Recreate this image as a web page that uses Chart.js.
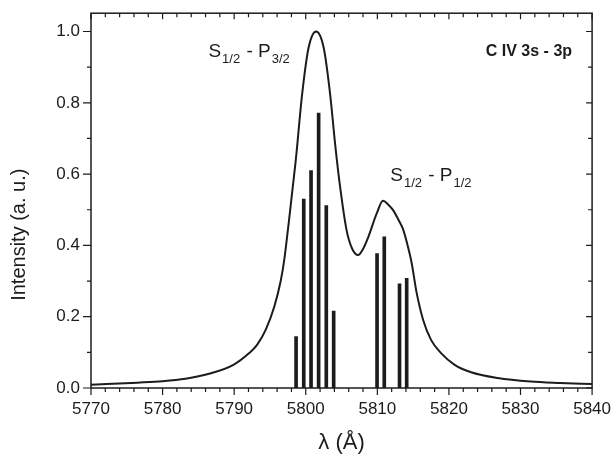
<!DOCTYPE html>
<html>
<head>
<meta charset="utf-8">
<script src="https://cdn.jsdelivr.net/npm/chart.js@4.4.1/dist/chart.umd.min.js"></script>
<style>
  body { margin: 0; background: #fff; }
  #wrap { width: 615px; height: 457px; }
</style>
</head>
<body>
<div id="wrap"><canvas id="spec"></canvas></div>
<script>
// fitted profile (wavelength in A, normalised intensity)
var curveX = [5770, 5776.5, 5780, 5783.2, 5786.5, 5789.9, 5792.1, 5793.2, 5794.4, 5795.6,
  5796.5, 5797.0, 5797.6, 5798.6, 5799.5, 5800.4, 5801.45, 5802.5, 5803.4, 5804.1,
  5804.8, 5805.7, 5806.5, 5807.3, 5808.0, 5808.75, 5809.9, 5810.8, 5811.5, 5812.2,
  5813.0, 5813.6, 5814.1, 5814.8, 5815.5, 5816.4, 5817.5, 5818.9, 5820.8, 5823.1,
  5826.8, 5831.4, 5835.5, 5840];
var curveY = [0.009, 0.015, 0.019, 0.026, 0.040, 0.065, 0.098, 0.121, 0.163, 0.228,
  0.300, 0.360, 0.460, 0.638, 0.825, 0.955, 1.000, 0.955, 0.825, 0.685,
  0.564, 0.443, 0.390, 0.373, 0.390, 0.424, 0.489, 0.525, 0.515, 0.499,
  0.470, 0.445, 0.410, 0.350, 0.266, 0.191, 0.135, 0.098, 0.065, 0.044,
  0.028, 0.018, 0.014, 0.011];

// component lines
var stickX = [5798.65, 5799.72, 5800.74, 5801.8, 5802.87, 5803.9, 5809.96, 5810.97, 5813.1, 5814.1];
var stickY = [0.144, 0.530, 0.610, 0.771, 0.512, 0.216, 0.377, 0.424, 0.292, 0.308];

var xMin = 5770, xMax = 5840, xStep = 10, xMinor = 2;
var yMin = 0, yMax = 1.0514, yStep = 0.2, yMinor = 0.1;
var yTitle = 'Intensity (a. u.)';

var FONT = '"Liberation Sans", Arial, sans-serif';
var INK = '#1c1c1c';

var curvePts = curveX.map(function(x, i) { return {x: x, y: curveY[i]}; });
var stickPts = stickX.map(function(x, i) { return {x: x, y: stickY[i]}; });

// label with subscripts: [text, isSub]
function drawLabel(ctx, parts, x, y, size) {
  var cx = x;
  parts.forEach(function(p) {
    if (p[1]) {
      ctx.font = Math.round(size * 0.68) + 'px ' + FONT;
      ctx.fillText(p[0], cx + 1, y + size * 0.32);
      cx += 2;
    } else {
      ctx.font = size + 'px ' + FONT;
      ctx.fillText(p[0], cx, y);
    }
    cx += ctx.measureText(p[0]).width;
  });
}

var framePlugin = {
  id: 'frame',
  afterDraw: function(chart) {
    var ctx = chart.ctx, a = chart.chartArea;
    var xs = chart.scales.x, ys = chart.scales.y;
    ctx.save();
    ctx.strokeStyle = INK;
    ctx.lineWidth = 1.5;
    ctx.strokeRect(a.left, a.top, a.right - a.left, a.bottom - a.top);

    ctx.lineWidth = 1.2;
    ctx.beginPath();
    for (var v = xMin; v <= xMax; v += xMinor) {
      var px = xs.getPixelForValue(v);
      var big = (v - xMin) % xStep === 0;
      ctx.moveTo(px, a.bottom); ctx.lineTo(px, a.bottom + (big ? 7 : 4));
      ctx.moveTo(px, a.top); ctx.lineTo(px, a.top + (big ? 6 : 4));
    }
    for (var i = 0; i <= 10; i++) {
      var py = ys.getPixelForValue(i * yMinor);
      var major = i % 2 === 0;
      ctx.moveTo(a.left, py); ctx.lineTo(a.left - (major ? 8 : 4), py);
      ctx.moveTo(a.right, py); ctx.lineTo(a.right - (major ? 6 : 4), py);
    }
    ctx.stroke();

    ctx.fillStyle = INK;
    ctx.textBaseline = 'alphabetic';
    ctx.textAlign = 'left';
    drawLabel(ctx, [['S', 0], ['1/2', 1], [' - P', 0], ['3/2', 1]],
      xs.getPixelForValue(5786.4), ys.getPixelForValue(0.929), 19);
    drawLabel(ctx, [['S', 0], ['1/2', 1], [' - P', 0], ['1/2', 1]],
      xs.getPixelForValue(5811.8), ys.getPixelForValue(0.582), 19);
    ctx.font = 'bold 16px ' + FONT;
    ctx.textAlign = 'right';
    ctx.fillText('C IV 3s - 3p', xs.getPixelForValue(5837.2), ys.getPixelForValue(0.932));

    // y axis title, sits a bit below the middle in the original
    ctx.save();
    ctx.translate(19, ys.getPixelForValue(0.43));
    ctx.rotate(-Math.PI / 2);
    ctx.textAlign = 'center';
    ctx.textBaseline = 'middle';
    ctx.font = '20px ' + FONT;
    ctx.fillText(yTitle, 0, 0);
    ctx.restore();
    ctx.restore();
  }
};

new Chart(document.getElementById('spec'), {
  type: 'scatter',
  data: {
    datasets: [
      {
        type: 'line',
        label: 'profile',
        data: curvePts,
        borderColor: INK,
        borderWidth: 2,
        pointRadius: 0,
        fill: false,
        cubicInterpolationMode: 'monotone'
      },
      {
        type: 'bar',
        label: 'components',
        data: stickPts,
        backgroundColor: INK,
        borderWidth: 0,
        barThickness: 3
      }
    ]
  },
  options: {
    responsive: true,
    maintainAspectRatio: false,
    animation: false,
    events: [],
    layout: { padding: { left: 0, right: 20, top: 12, bottom: 0 } },
    plugins: { legend: { display: false }, tooltip: { enabled: false } },
    scales: {
      x: {
        type: 'linear',
        min: xMin, max: xMax,
        offset: false,
        grid: { display: false, offset: false, drawTicks: true, tickLength: 7 },
        border: { display: false },
        ticks: { stepSize: xStep, padding: 4, color: INK, font: { family: FONT, size: 17 },
          maxRotation: 0, callback: function(v) { return v; } },
        title: { display: true, text: 'λ (Å)', color: INK, font: { family: FONT, size: 22 },
          padding: { top: 0, bottom: 1 } },
        afterFit: function(s) { s.height = 69; }
      },
      y: {
        type: 'linear',
        min: yMin, max: yMax,
        grid: { display: false, drawTicks: true, tickLength: 8 },
        border: { display: false },
        ticks: { stepSize: yStep, includeBounds: false, padding: 3, color: INK,
          font: { family: FONT, size: 17 }, callback: function(v) { return v.toFixed(1); } },
        afterFit: function(s) { s.width = 91; }
      }
    }
  },
  plugins: [framePlugin]
});
</script>
</body>
</html>
